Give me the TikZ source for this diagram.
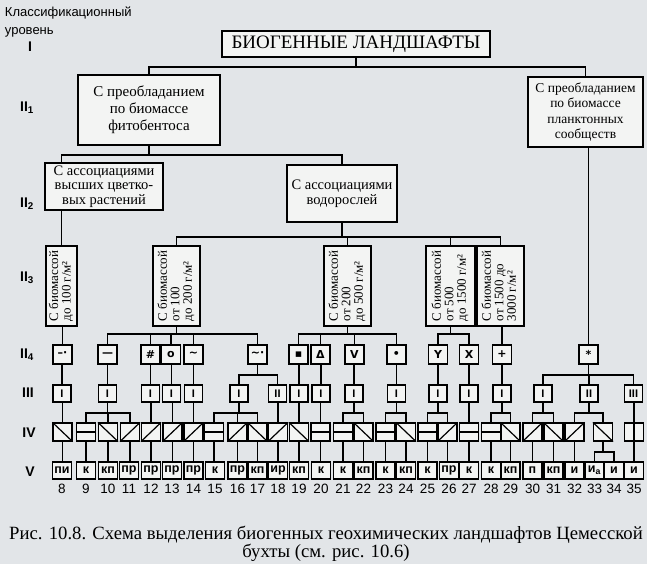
\documentclass[tikz,border=0pt]{standalone}
\usepackage{fontspec}
\setmainfont{Liberation Serif}
\setsansfont{Liberation Sans}
\newfontfamily\symfont{DejaVu Sans}

\definecolor{paper}{RGB}{226,229,232}
\definecolor{boxfill}{RGB}{243,244,243}

\newcommand\vtext[1]{\rotatebox{90}{\begin{tabular}{@{}l@{}}#1\end{tabular}}}

\tikzset{
  box/.style={draw, fill=boxfill, align=center, inner sep=1pt},
  biobox/.style={draw, fill=boxfill, inner sep=0pt, minimum width=#1, minimum height=80pt, font=\fontsize{13}{12.5}\selectfont},
  biobox/.default=47pt,
  sym/.style={draw, fill=boxfill, minimum size=19pt, inner sep=0pt, font=\symfont\bfseries\fontsize{11}{11}\selectfont},
  rank/.style={draw, fill=boxfill, minimum width=18pt, minimum height=17pt, inner sep=0pt, font=\sffamily\bfseries\fontsize{11}{11}\selectfont},
  cell/.style={draw, fill=boxfill, minimum width=19pt, minimum height=18pt, inner sep=0pt},
  leaf/.style={draw, fill=boxfill, minimum width=19pt, minimum height=17pt, inner sep=0pt, font=\sffamily\bfseries\fontsize{12.5}{12.5}\selectfont},
  num/.style={font=\sffamily\fontsize{13.5}{13.5}\selectfont},
  lvl/.style={font=\sffamily\bfseries\fontsize{14}{14}\selectfont},
}

\begin{document}
\begin{tikzpicture}[x=1pt, y=-1pt, line width=1.2pt]
  \fill[paper] (0,0) rectangle (647,564);
  \useasboundingbox (0,0) rectangle (647,564);

  % classification levels
  \node[anchor=north west, align=left, font=\sffamily\fontsize{13}{18}\selectfont] (head) at (1,3) {Классификационный\\уровень};
  \node[lvl] (l1) at (30,47) {I};
  \node[lvl] (l2) at (27,108) {II\textsubscript{1}};
  \node[lvl] (l3) at (27,204) {II\textsubscript{2}};
  \node[lvl] (l4) at (27,278) {II\textsubscript{3}};
  \node[lvl] (l5) at (27,355) {II\textsubscript{4}};
  \node[lvl] (l6) at (28,393) {III};
  \node[lvl] (l7) at (29,433) {IV};
  \node[lvl] (l8) at (30,472) {V};

  % levels I, II1, II2
  \node[box, line width=1.9pt, minimum width=268pt, minimum height=26pt, font=\fontsize{19}{20}\selectfont] (top) at (356,44) {БИОГЕННЫЕ ЛАНДШАФТЫ};
  \node[box, minimum width=142pt, minimum height=70pt, font=\fontsize{15}{17}\selectfont] (phyto) at (149,110) {С преобладанием\\по биомассе\\фитобентоса};
  \node[box, minimum width=115pt, minimum height=70pt, font=\fontsize{13.5}{15.5}\selectfont] (plankton) at (585.5,112) {С преобладанием\\по биомассе\\планктонных\\сообществ};
  \node[box, minimum width=118pt, minimum height=47pt, font=\fontsize{14.5}{14.5}\selectfont] (higher) at (104,186.5) {С ассоциациями\\высших цветко-\\вых растений};
  \node[box, minimum width=110pt, minimum height=57pt, font=\fontsize{14.5}{15}\selectfont] (algae) at (342,193.5) {С ассоциациями\\водорослей};

  % level II3
  \node[biobox=31pt] (bio1) at (61.5,286) {\vtext{С биомассой\\до 100 г/м²}};
  \node[biobox] (bio2) at (176.5,286) {\vtext{С биомассой\\от 100\\до 200 г/м²}};
  \node[biobox] (bio3) at (347.5,286) {\vtext{С биомассой\\от 200\\до 500 г/м²}};
  \node[biobox=49pt] (bio4) at (450.5,286) {\vtext{С биомассой\\от 500\\до 1500 г/м²}};
  \node[biobox] (bio5) at (500.5,286) {\vtext{С биомассой\\от 1500 до\\3000 г/м²}};

  % level II4
  \foreach \n/\x/\s in {1/62.5/{–·}, 2/107.5/{—}, 3/150.5/{\#}, 4/171/{o}, 5/193.5/{∼}, 6/257.5/{∼·},
      7/298.5/{▪}, 8/320.5/{Δ}, 9/354.5/{V}, 10/396.5/{•}, 11/438/{Y}, 12/469/{X}, 13/502/{+}, 14/588.5/{*}}
    \node[sym] (s\n) at (\x,354.5) {\s};

  % level III
  \foreach \n/\x/\r in {1/62/I, 2/107.5/I, 3/150.5/I, 4/171.5/I, 5/193.5/I, 6/239/I, 7/277.5/II, 8/299/I, 9/321/I,
      10/354/I, 11/396.5/I, 12/438/I, 13/469/I, 14/502/I, 15/543/I, 16/589/II, 17/633.5/III}
    \node[rank] (t\n) at (\x,393.5) {\r};

  % level IV
  \foreach \n/\x in {1/62.5, 2/86, 3/108, 4/130, 5/151, 6/172.5, 7/193.5, 8/214, 9/237.5, 10/257.5, 11/278, 12/299,
      13/320.5, 14/343, 15/363.5, 16/385.5, 17/406, 18/427.5, 19/447.5, 20/469, 21/491, 22/510.5, 23/532.5,
      24/553.5, 25/574.5, 26/603, 27/634}
    \node[cell] (u\n) at (\x,432) {};
  \foreach \n in {1,3,10,12,15,17,22,24,26} \draw (u\n.north west) -- (u\n.south east);
  \foreach \n in {4,5,6,7,9,11,19,23,25} \draw (u\n.south west) -- (u\n.north east);
  \foreach \n in {2,8,13,14,16,18,20,21} \draw (u\n.west) -- (u\n.east);
  \draw (u27.north) -- (u27.south);

  % level V
  \foreach \n/\x/\t in {8/62/пи, 9/86/к, 10/108/кп, 11/129/пр, 12/151/пр, 13/172/пр, 14/193.5/пр, 15/215/к,
      16/237.5/пр, 17/257.5/кп, 18/278/ир, 19/299/кп, 20/321/к, 21/343/к, 22/363.5/кп, 23/385.5/к, 24/406/кп,
      25/427.5/к, 26/449/пр, 27/469/к, 28/491/к, 29/510.5/кп, 30/532.5/п, 31/553.5/кп, 32/574.5/и,
      33/594.5/{и\textsubscript{а}}, 34/614/и, 35/634/и}
  {
    \node[leaf] (v\n) at (\x,470.5) {\t};
    \node[num] (n\n) at (\x,489) {\n};
  }

  % connectors
  \coordinate (bar1) at (0,67);
  \draw (top.south) -- (top.south |- bar1);
  \foreach \c in {phyto, plankton} \draw (\c.north) |- (top.south |- bar1);

  \coordinate (bar2) at (0,155);
  \draw (phyto.south) -- (phyto.south |- bar2);
  \draw (higher.north -| bio1) |- (phyto.south |- bar2);
  \draw (algae.north) |- (phyto.south |- bar2);
  \draw (higher.south -| bio1) -- (bio1.north);

  \coordinate (bar3) at (0,237);
  \draw (algae.south) -- (algae.south |- bar3);
  \foreach \c in {bio2, bio3, bio4, bio5} \draw (\c.north) |- (algae.south |- bar3);

  \coordinate (bar4) at (0,334);
  \foreach \p in {bio2, bio3, bio4} \draw (\p.south) -- (\p.south |- bar4);
  \foreach \p/\c in {bio2/s2, bio2/s3, bio2/s4, bio2/s5, bio2/s6, bio3/s7, bio3/s8, bio3/s9, bio3/s10, bio4/s11, bio4/s12}
    \draw (\c.north) |- (\p.south |- bar4);

  \coordinate (bar5) at (0,375);
  \foreach \p in {s6, s14} \draw (\p.south) -- (\p.south |- bar5);
  \foreach \p/\c in {s6/t6, s6/t7, s14/t15, s14/t16, s14/t17} \draw (\c.north) |- (\p.south |- bar5);

  \coordinate (bar6) at (0,413);
  \foreach \p in {t2, t6, t10, t11, t12, t14, t15, t16} \draw (\p.south) -- (\p.south |- bar6);
  \foreach \p/\c in {t2/u2, t2/u3, t2/u4, t6/u8, t6/u9, t6/u10, t10/u14, t10/u15, t11/u16, t11/u17,
      t12/u18, t12/u19, t14/u21, t14/u22, t15/u23, t15/u24, t16/u25, t16/u26}
    \draw (\c.north) |- (\p.south |- bar6);

  \foreach \p/\c in {bio1/s1, bio5/s13, plankton/s14, s1/t1, s2/t2, s3/t3, s4/t4, s5/t5, s7/t8, s8/t9, s9/t10,
      s10/t11, s11/t12, s12/t13, s13/t14, t1/u1, t3/u5, t4/u6, t5/u7, t7/u11, t8/u12, t9/u13, t13/u20, t17/u27}
    \draw (\c.north) -- (\c.north |- \p.south);

  \foreach \a in {1,...,25} {
    \pgfmathtruncatemacro\b{\a+7}
    \draw (u\a.south) -- (u\a.south |- v\b.north);
  }
  \draw (u27.south) -- (u27.south |- v35.north);
  \coordinate (bar7) at (0,452);
  \draw (u26.south) -- (u26.south |- bar7);
  \foreach \c in {v33, v34} \draw (\c.north) |- (u26.south |- bar7);

  % caption
  \node[font=\fontsize{18.7}{18}\selectfont, align=center] (caption) at (326,544) {Рис. 10.8. Схема выделения биогенных геохимических ландшафтов Цемесской\\бухты (см. рис. 10.6)};
\end{tikzpicture}
\end{document}
